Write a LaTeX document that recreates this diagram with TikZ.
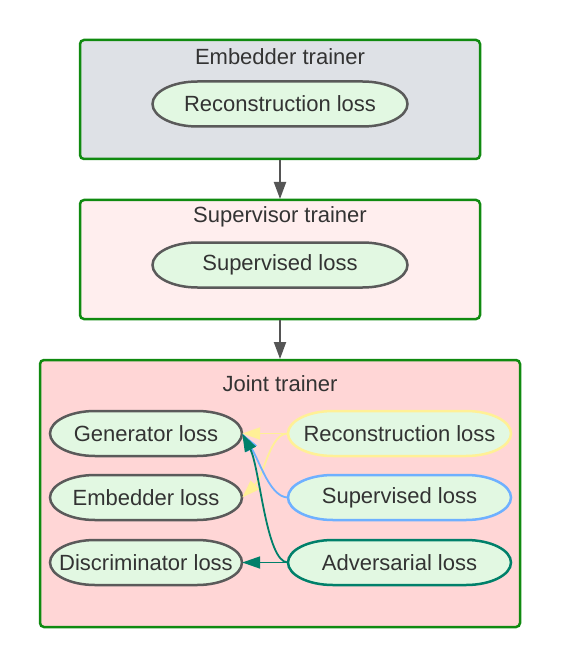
\documentclass[tikz,border=0pt]{standalone}
\usepackage{fontspec}
\setmainfont{Liberation Sans}
\usetikzlibrary{arrows.meta}
\definecolor{boxgreen}{RGB}{16,138,16}
\definecolor{graybg}{RGB}{222,225,230}
\definecolor{pinkbg}{RGB}{255,238,238}
\definecolor{redbg}{RGB}{255,214,214}
\definecolor{lossfill}{RGB}{226,248,226}
\definecolor{lossborder}{RGB}{90,90,90}
\definecolor{txt}{RGB}{51,51,51}
\definecolor{yel}{RGB}{255,240,150}
\definecolor{blu}{RGB}{110,176,255}
\definecolor{teal}{RGB}{0,128,106}
\definecolor{arrgray}{RGB}{85,85,85}
\tikzset{
  trainer/.style={draw=boxgreen, line width=2.5pt, rounded corners=4pt},
  title/.style={text=txt, font=\fontsize{22}{26}\selectfont, inner sep=0pt},
  losstext/.style={minimum height=45pt, inner sep=0pt, text=txt, font=\fontsize{22}{26}\selectfont},
  lossline/.style={line width=2.5pt, fill=lossfill},
  arr/.style={line width=1.8pt, -{Triangle[length=18pt,width=12pt]}},
  grayarr/.style={line width=2pt, draw=arrgray, -{Triangle[length=17pt,width=12pt]}},
}
% name, x, y, width, colour, text
\newcommand\lossnode[6]{%
  \draw[lossline, draw=#5] ({#2-#4/2+45},{#3-22.5}) -- ({#2+#4/2-45},{#3-22.5})
    arc[start angle=-90, end angle=90, x radius=45, y radius=22.5]
    -- ({#2-#4/2+45},{#3+22.5})
    arc[start angle=90, end angle=270, x radius=45, y radius=22.5] -- cycle;
  \node[losstext, minimum width=#4] (#1) at (#2,#3) {#6};}
\begin{document}
\begin{tikzpicture}[x=1pt,y=-1pt]
\useasboundingbox (0,0) rectangle (560,668);
% trainers
\draw[trainer, fill=graybg] (80,40) rectangle (480,159);
\node[title] (t1) at (280,57) {Embedder trainer};
\lossnode{rl1}{280}{104}{255}{lossborder}{Reconstruction loss}

\draw[trainer, fill=pinkbg] (80,200) rectangle (480,319);
\node[title] (t2) at (280,217) {Supervisor trainer};
\lossnode{sl1}{280}{265}{255}{lossborder}{Supervised loss}

\draw[trainer, fill=redbg] (40,360) rectangle (520,627);
\node[title] (t3) at (280,384) {Joint trainer};

\coordinate (b1) at (280,160);
\coordinate (b1e) at (280,199);
\coordinate (b2) at (280,320);
\coordinate (b2e) at (280,359);
\draw[grayarr] (b1) -- (b1e);
\draw[grayarr] (b2) -- (b2e);

% left nodes
\lossnode{gen}{146}{433.5}{192}{lossborder}{Generator loss}
\lossnode{emb}{146}{497.5}{192}{lossborder}{Embedder loss}
\lossnode{dis}{146}{562.5}{192}{lossborder}{Discriminator loss}
% right nodes
\lossnode{rec}{399.5}{433.5}{223}{yel}{Reconstruction loss}
\lossnode{sup}{399.5}{497.5}{223}{blu}{Supervised loss}
\lossnode{adv}{399.5}{562.5}{223}{teal}{Adversarial loss}

% connectors
\draw[arr, draw=yel] (rec.west) -- (gen.east);
\draw[arr, draw=yel] (rec.west) .. controls (270,433) and (264,476) .. (emb.east);
\draw[arr, draw=blu] (sup.west) .. controls (270,497) and (260,462) .. (gen.east);
\draw[arr, draw=teal] (adv.west) .. controls (266,562) and (260,468) .. (gen.east);
\draw[arr, draw=teal] (adv.west) -- (dis.east);
\end{tikzpicture}
\end{document}
